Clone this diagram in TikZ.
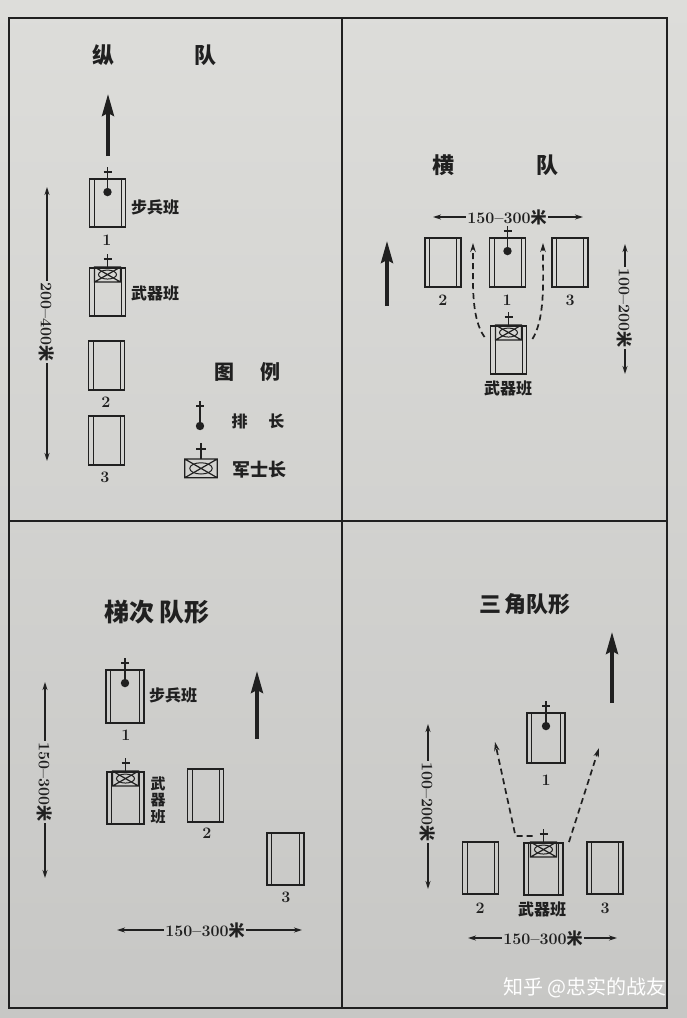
\documentclass[tikz,border=0pt]{standalone}
\usepackage{fontspec}
\usepackage{tikz}
\usetikzlibrary{arrows.meta}
\newfontfamily\cjk{Noto Sans CJK SC}
\definecolor{ink}{RGB}{32,32,32}
\definecolor{paperhi}{RGB}{221,221,218}
\definecolor{paperlo}{RGB}{199,199,197}

\begin{document}
\begin{tikzpicture}[
  x=1pt, y=-1pt,
  squad/.style={draw=ink, line width=1.9pt, minimum width=36pt, minimum height=49pt, inner sep=0pt,
    path picture={\draw[ink, line width=1pt]
      ([xshift=4.5pt]path picture bounding box.north west) -- ([xshift=4.5pt]path picture bounding box.south west)
      ([xshift=-4.5pt]path picture bounding box.north east) -- ([xshift=-4.5pt]path picture bounding box.south east);}},
  heading/.style={font=\cjk\bfseries\fontsize{22}{22}\selectfont, text=ink},
  lbl/.style={font=\cjk\bfseries\fontsize{16}{16}\selectfont, text=ink},
  num/.style={font=\bfseries\fontsize{16}{16}\selectfont, text=ink},
  dimtext/.style={font=\bfseries\fontsize{16}{16}\selectfont, text=ink, inner sep=1.5pt},
  dimline/.style={draw=ink, line width=1.4pt, -{Stealth[length=8pt,width=5pt]}},
  march/.style={draw=ink, line width=3.6pt, -{Stealth[length=22pt,width=12pt,inset=3pt]}},
  route/.style={draw=ink, line width=1.7pt, dash pattern=on 6pt off 4pt, -{Stealth[length=9pt,width=5.5pt]}},
  leader/.pic={
    \draw[ink, line width=1.3pt] (0,-11) -- (0,14) (-4,-6) -- (4,-6);
    \fill[ink] (0,14) circle (4.2pt);},
  sergeant/.pic={
    \draw[ink, line width=1.3pt] (0,-13) -- (0,0) (-4,-8) -- (4,-8);
    \draw[ink, line width=1.2pt] (-13,0) rectangle (13,15) (-13,0) -- (13,15) (-13,15) -- (13,0);
    \draw[ink, line width=1pt] (0,7.5) ellipse (9pt and 4.5pt);}
]
  \path[use as bounding box] (0,0) rectangle (687,1018);
  \shade[top color=paperhi, bottom color=paperlo] (0,0) rectangle (687,1018);
  % frame
  \draw[ink, line width=2.8pt] (9,18) rectangle (667,1008);
  \draw[ink, line width=2.4pt] (342,18) -- (342,1008) (9,521) -- (667,521);

  % column
  \node[heading] (t1) at (154,55) {纵\hspace{80pt}队};
  \coordinate (m1a) at (108,156);
  \coordinate (m1b) at (108,94);
  \draw[march] (m1a) -- (m1b);
  \node[squad, minimum height=48pt] (a1) at (107.5,203) {};
  \pic at (a1.north) {leader};
  \node[lbl] (a1l) at (155,207) {步兵班};
  \node[num] (a1n) at (107,240) {1};
  \node[squad, minimum height=48pt] (a2) at (107.5,292) {};
  \pic at (a2.north) {sergeant};
  \node[lbl] (a2l) at (155,293) {武器班};
  \node[squad] (a3) at (106.5,365.5) {};
  \node[num] (a3n) at (106,402) {2};
  \node[squad] (a4) at (106.5,440.5) {};
  \node[num] (a4n) at (105,477) {3};
  \node[dimtext, rotate=-90] (v1) at (47,322) {200–400{\cjk 米}};
  \coordinate (v1a) at (47,187);
  \coordinate (v1b) at (47,461);
  \draw[dimline] (v1) -- (v1a);
  \draw[dimline] (v1) -- (v1b);
  % legend
  \node[heading, font=\cjk\bfseries\fontsize{20}{20}\selectfont] (lg) at (247,372) {图\hspace{26pt}例};
  \pic at (200,412) {leader};
  \node[lbl] (lg1) at (258,421) {排\hspace{21pt}长};
  \pic[scale=1.25] at (201,459) {sergeant};
  \node[lbl, font=\cjk\bfseries\fontsize{18}{18}\selectfont] (lg2) at (259,470) {军士长};

  % line
  \node[heading] (t2) at (495,165) {横\hspace{82pt}队};
  \node[dimtext] (h2) at (507,217) {150–300{\cjk 米}};
  \coordinate (h2a) at (433,217);
  \coordinate (h2b) at (583,217);
  \draw[dimline] (h2) -- (h2a);
  \draw[dimline] (h2) -- (h2b);
  \coordinate (m2a) at (387,306);
  \coordinate (m2b) at (387,241);
  \draw[march] (m2a) -- (m2b);
  \node[squad] (b2) at (443,262.5) {};
  \node[squad] (b1) at (507.5,262.5) {};
  \pic at (b1.north) {leader};
  \node[squad] (b3) at (570,262.5) {};
  \node[num] (b2n) at (443,300) {2};
  \node[num] (b1n) at (507,300) {1};
  \node[num] (b3n) at (570,300) {3};
  \node[squad, minimum height=48pt] (b4) at (508.5,350) {};
  \pic at (b4.north) {sergeant};
  \node[lbl] (b4l) at (508,388) {武器班};
  \coordinate (r2a) at (473,243);
  \coordinate (r2b) at (543,243);
  \draw[route] ([xshift=-5pt,yshift=-12pt]b4.north west) .. controls (471,318) and (473,285) .. (r2a);
  \draw[route] ([xshift=5pt,yshift=-14pt]b4.north east) .. controls (545,318) and (543,285) .. (r2b);
  \node[dimtext, rotate=-90] (v2) at (625,308) {100–200{\cjk 米}};
  \coordinate (v2a) at (625,244);
  \coordinate (v2b) at (625,374);
  \draw[dimline] (v2) -- (v2a);
  \draw[dimline] (v2) -- (v2b);

  % echelon
  \node[heading, font=\cjk\bfseries\fontsize{25}{25}\selectfont] (t3) at (157,612) {梯次\,队形};
  \node[squad, minimum width=38pt, minimum height=53pt] (c1) at (125,696.5) {};
  \pic at (c1.north) {leader};
  \node[lbl] (c1l) at (173,695) {步兵班};
  \node[num] (c1n) at (126,735) {1};
  \coordinate (m3a) at (257,739);
  \coordinate (m3b) at (257,671);
  \draw[march] (m3a) -- (m3b);
  \node[squad, minimum width=37pt, minimum height=52pt] (c2) at (125.5,798) {};
  \pic at (c2.north) {sergeant};
  \node[lbl, align=center, font=\cjk\bfseries\fontsize{15}{16.5}\selectfont] (c2l) at (158,800) {武\\器\\班};
  \node[squad, minimum height=53pt] (c3) at (205.5,795.5) {};
  \node[num] (c3n) at (207,833) {2};
  \node[squad, minimum width=37pt, minimum height=52pt] (c4) at (285.5,859) {};
  \node[num] (c4n) at (286,897) {3};
  \node[dimtext] (h3) at (205,930) {150–300{\cjk 米}};
  \coordinate (h3a) at (117,930);
  \coordinate (h3b) at (302,930);
  \draw[dimline] (h3) -- (h3a);
  \draw[dimline] (h3) -- (h3b);
  \node[dimtext, rotate=-90] (v3) at (45,782) {150–300{\cjk 米}};
  \coordinate (v3a) at (45,682);
  \coordinate (v3b) at (45,878);
  \draw[dimline] (v3) -- (v3a);
  \draw[dimline] (v3) -- (v3b);

  % wedge
  \node[heading] (t4) at (525,604) {三\,角队形};
  \coordinate (m4a) at (612,703);
  \coordinate (m4b) at (612,632);
  \draw[march] (m4a) -- (m4b);
  \node[squad, minimum width=38pt, minimum height=50pt] (d1) at (546,738) {};
  \pic at (d1.north) {leader};
  \node[num] (d1n) at (546,780) {1};
  \node[squad, minimum height=52pt] (d2) at (480.5,868) {};
  \node[squad, minimum width=39pt, minimum height=52pt] (d3) at (543.5,869) {};
  \pic at (d3.north) {sergeant};
  \node[squad, minimum height=52pt] (d4) at (605,868) {};
  \node[num] (d2n) at (480,908) {2};
  \node[lbl] (d3l) at (542,909) {武器班};
  \node[num] (d4n) at (605,908) {3};
  \coordinate (r4a) at (495,742);
  \coordinate (r4b) at (599,748);
  \draw[route] ([xshift=-11pt,yshift=6pt]d3.north) -- ++(-17,0) -- (r4a);
  \draw[route] ([xshift=5pt]d3.north east) -- (r4b);
  \node[dimtext, rotate=-90] (v4) at (428,802) {100–200{\cjk 米}};
  \coordinate (v4a) at (428,724);
  \coordinate (v4b) at (428,889);
  \draw[dimline] (v4) -- (v4a);
  \draw[dimline] (v4) -- (v4b);
  \node[dimtext] (h4) at (543,938) {150–300{\cjk 米}};
  \coordinate (h4a) at (468,938);
  \coordinate (h4b) at (617,938);
  \draw[dimline] (h4) -- (h4a);
  \draw[dimline] (h4) -- (h4b);

  \node[font=\cjk\fontsize{20}{20}\selectfont, text=white] (wm) at (585,988) {知乎 @忠实的战友};
\end{tikzpicture}
\end{document}
